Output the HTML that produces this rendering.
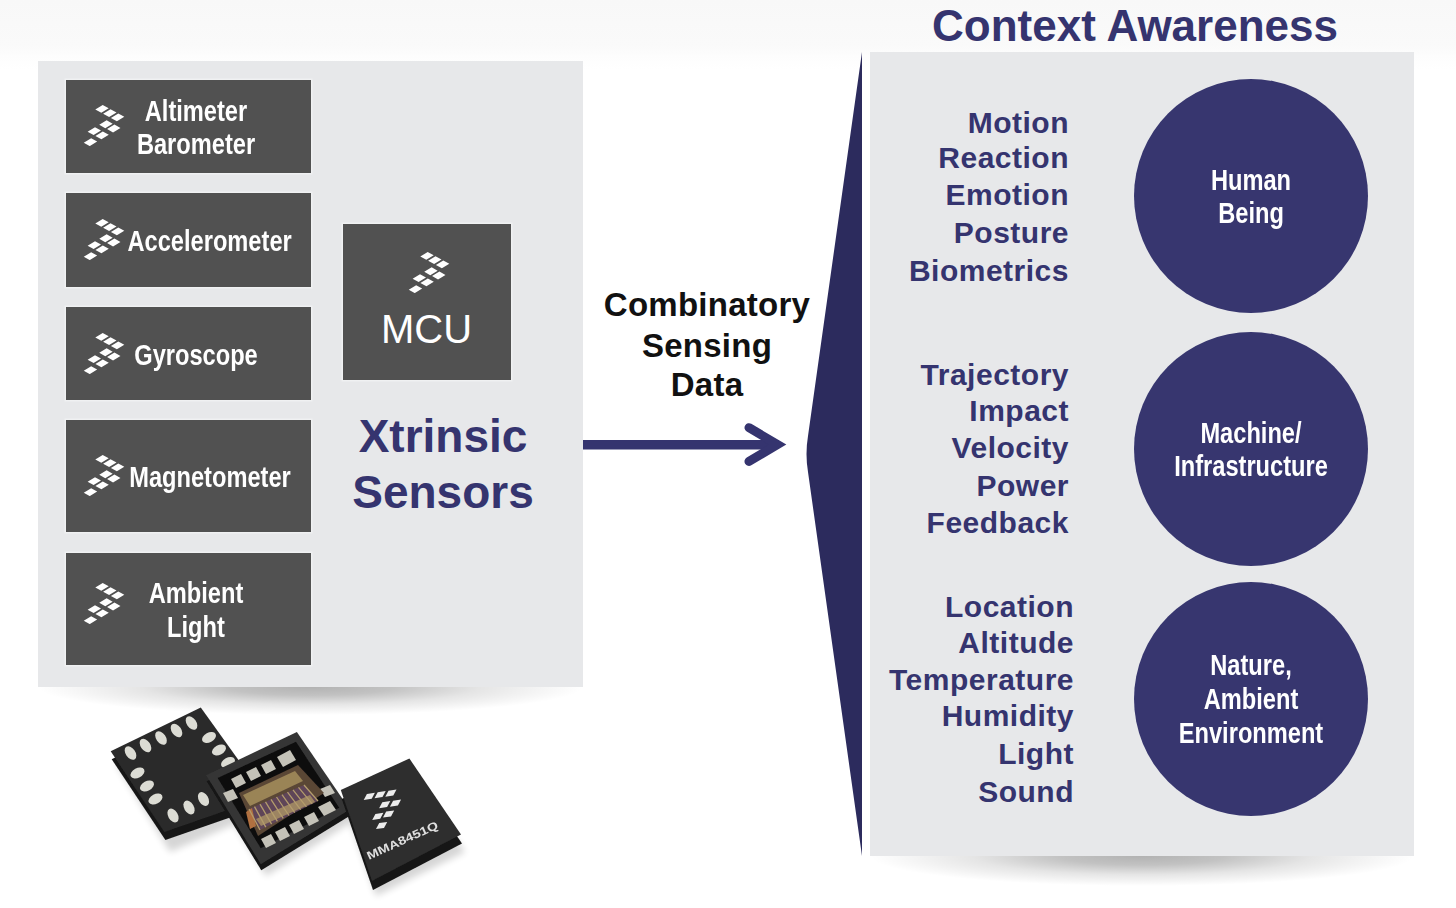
<!DOCTYPE html>
<html><head><meta charset="utf-8">
<style>
html,body{margin:0;padding:0;}
body{width:1456px;height:908px;overflow:hidden;position:relative;
 background:linear-gradient(to bottom,#f8f8f8 0px,#fafafa 46px,#fdfdfd 56px,#ffffff 70px);
 font-family:"Liberation Sans",sans-serif;}
.a{position:absolute;}
.panel{position:absolute;background:#e7e8ea;}
.box{position:absolute;background:#515151;left:66px;width:245px;box-shadow:0 0 0 1.5px rgba(255,255,255,0.4);}
.t{position:absolute;white-space:nowrap;font-weight:bold;}
.nv{color:#35346f;font-size:30px;line-height:30px;text-align:right;letter-spacing:0.5px;}
.cnd{color:#fff;font-size:29px;line-height:29px;text-align:center;transform:scaleX(0.815);transform-origin:50% 50%;}
.circ{position:absolute;left:1134px;width:234px;height:234px;border-radius:50%;background:#37366f;}
.ico{position:absolute;width:42px;height:41px;}
</style></head>
<body>
<svg width="0" height="0" style="position:absolute">
<defs>
<symbol id="fs" viewBox="0 0 42 41"><path fill="#fff" d="M12.30 4.50 19.70 0.00 25.70 3.30 18.30 7.80ZM20.10 8.75 27.50 4.25 33.50 7.55 26.10 12.05ZM27.90 13.00 35.30 8.50 41.30 11.80 33.90 16.30ZM16.25 19.85 23.65 15.35 29.65 18.65 22.25 23.15ZM24.05 24.10 31.45 19.60 37.45 22.90 30.05 27.40ZM4.60 26.70 12.00 22.20 18.00 25.50 10.60 30.00ZM12.40 30.95 19.80 26.45 25.80 29.75 18.40 34.25ZM0.75 37.80 8.15 33.30 14.15 36.60 6.75 41.10Z"/></symbol>
</defs>
</svg>

<!-- shadows -->
<div class="a" style="left:38px;top:687px;width:545px;height:28px;background:radial-gradient(ellipse 50% 100% at 50% 0%,rgba(0,0,0,0.30) 0%,rgba(0,0,0,0.24) 30%,rgba(0,0,0,0.10) 62%,rgba(0,0,0,0) 100%)"></div>
<div class="a" style="left:870px;top:856px;width:544px;height:30px;background:radial-gradient(ellipse 50% 100% at 50% 0%,rgba(0,0,0,0.30) 0%,rgba(0,0,0,0.24) 30%,rgba(0,0,0,0.10) 62%,rgba(0,0,0,0) 100%)"></div>

<!-- left panel -->
<div class="panel" style="left:38px;top:61px;width:545px;height:626px"></div>
<div class="box" style="top:80px;height:93px"></div>
<div class="box" style="top:193px;height:94px"></div>
<div class="box" style="top:307px;height:93px"></div>
<div class="box" style="top:420px;height:112px"></div>
<div class="box" style="top:553px;height:112px"></div>
<div class="a" style="left:343px;top:224px;width:168px;height:156px;background:#515151;box-shadow:0 0 0 1.5px rgba(255,255,255,0.4)"></div>

<svg class="ico" style="left:83px;top:104.8px"><use href="#fs"/></svg>
<svg class="ico" style="left:83px;top:218.8px"><use href="#fs"/></svg>
<svg class="ico" style="left:83px;top:332.7px"><use href="#fs"/></svg>
<svg class="ico" style="left:83px;top:454.5px"><use href="#fs"/></svg>
<svg class="ico" style="left:83px;top:583px"><use href="#fs"/></svg>
<svg class="ico" style="left:408px;top:251.8px"><use href="#fs"/></svg>

<div class="t cnd" style="left:96px;width:200px;top:96.7px">Altimeter</div>
<div class="t cnd" style="left:96px;width:200px;top:129.7px">Barometer</div>
<div class="t cnd" style="left:109px;width:200px;top:226.6px">Accelerometer</div>
<div class="t cnd" style="left:96px;width:200px;top:340.7px">Gyroscope</div>
<div class="t cnd" style="left:110px;width:200px;top:463.2px">Magnetometer</div>
<div class="t cnd" style="left:96px;width:200px;top:578.8px">Ambient</div>
<div class="t cnd" style="left:96px;width:200px;top:612.5px">Light</div>

<div class="t" style="left:343px;width:167px;text-align:center;top:309px;font-weight:normal;color:#fff;font-size:40px;line-height:40px">MCU</div>
<div class="t" style="left:293px;width:300px;text-align:center;top:413px;color:#35346f;font-size:46px;line-height:46px">Xtrinsic</div>
<div class="t" style="left:293px;width:300px;text-align:center;top:468.5px;color:#35346f;font-size:46px;line-height:46px">Sensors</div>

<!-- middle -->
<div class="t" style="left:557px;width:300px;text-align:center;top:288.4px;color:#111;font-size:33px;line-height:33px;letter-spacing:0.25px">Combinatory</div>
<div class="t" style="left:557px;width:300px;text-align:center;top:328.7px;color:#111;font-size:33px;line-height:33px;letter-spacing:0.25px">Sensing</div>
<div class="t" style="left:557px;width:300px;text-align:center;top:368.2px;color:#111;font-size:33px;line-height:33px;letter-spacing:0.25px">Data</div>

<svg class="a" style="left:0;top:0" width="1456" height="908">
<line x1="583" y1="444.7" x2="775" y2="444.7" stroke="#35346f" stroke-width="9.5"/>
<polyline points="749,427.7 777.5,444.6 749,461.4" fill="none" stroke="#35346f" stroke-width="9" stroke-linecap="round" stroke-linejoin="miter" stroke-miterlimit="10"/>
<path d="M862 52 L808 436 Q805 454 808 472 L862 856 Z" fill="#2c2b5d"/>
</svg>

<!-- right panel -->
<div class="t" style="left:863px;width:544px;text-align:center;top:4px;color:#35346f;font-size:44px;line-height:44px">Context Awareness</div>
<div class="panel" style="left:870px;top:52px;width:544px;height:804px"></div>

<div class="t nv" style="right:387px;top:107.7px">Motion</div>
<div class="t nv" style="right:387px;top:143.2px">Reaction</div>
<div class="t nv" style="right:387px;top:180.4px">Emotion</div>
<div class="t nv" style="right:387px;top:218.3px">Posture</div>
<div class="t nv" style="right:387px;top:255.6px">Biometrics</div>

<div class="t nv" style="right:387px;top:359.8px">Trajectory</div>
<div class="t nv" style="right:387px;top:396.2px">Impact</div>
<div class="t nv" style="right:387px;top:432.6px">Velocity</div>
<div class="t nv" style="right:387px;top:471.1px">Power</div>
<div class="t nv" style="right:387px;top:507.5px">Feedback</div>

<div class="t nv" style="right:382px;top:592px">Location</div>
<div class="t nv" style="right:382px;top:627.5px">Altitude</div>
<div class="t nv" style="right:382px;top:664.7px">Temperature</div>
<div class="t nv" style="right:382px;top:701.4px">Humidity</div>
<div class="t nv" style="right:382px;top:739.4px">Light</div>
<div class="t nv" style="right:382px;top:777.4px">Sound</div>

<div class="circ" style="top:79px"></div>
<div class="circ" style="top:332px"></div>
<div class="circ" style="top:582px"></div>

<div class="t cnd" style="left:1101px;width:300px;top:166.2px">Human</div>
<div class="t cnd" style="left:1101px;width:300px;top:198.9px">Being</div>
<div class="t cnd" style="left:1101px;width:300px;top:418.8px">Machine/</div>
<div class="t cnd" style="left:1101px;width:300px;top:451.5px">Infrastructure</div>
<div class="t cnd" style="left:1101px;width:300px;top:651px">Nature,</div>
<div class="t cnd" style="left:1101px;width:300px;top:685.2px">Ambient</div>
<div class="t cnd" style="left:1101px;width:300px;top:719.4px">Environment</div>

<!-- chips -->
<svg class="a" style="left:0;top:0" width="1456" height="908">
<defs>
<filter id="bl" x="-20%" y="-20%" width="140%" height="140%"><feGaussianBlur stdDeviation="3.5"/></filter>
<filter id="sb" x="-5%" y="-5%" width="110%" height="110%"><feGaussianBlur stdDeviation="0.55"/></filter>
</defs>
<g filter="url(#bl)" fill="#000" opacity="0.16">
<polygon points="116,764 203,722 265,811 170,852"/>
<polygon points="212,788 299,746 352,822 266,876"/>
<polygon points="344,804 411,772 465,852 376,896"/>
</g>
<g filter="url(#sb)">
<!-- chip 1 -->
<polygon points="110.7,751.2 200.8,707.4 265,797 164.4,832" fill="#161616" transform="translate(1,8)"/>
<polygon points="110.7,751.2 200.8,707.4 265,797 164.4,832" fill="#2b2b2b"/>
<g fill="#dcdcd4">
<ellipse cx="130.5" cy="753" rx="7.5" ry="4.8" transform="rotate(55 130.5 753)"/>
<ellipse cx="145.5" cy="745.5" rx="7.5" ry="4.8" transform="rotate(55 145.5 745.5)"/>
<ellipse cx="161" cy="738" rx="7.5" ry="4.8" transform="rotate(55 161 738)"/>
<ellipse cx="176.5" cy="730.5" rx="7.5" ry="4.8" transform="rotate(55 176.5 730.5)"/>
<ellipse cx="191.5" cy="723" rx="7.5" ry="4.8" transform="rotate(55 191.5 723)"/>
<ellipse cx="209" cy="737.5" rx="7.5" ry="4.8" transform="rotate(-28 209 737.5)"/>
<ellipse cx="219" cy="750" rx="7.5" ry="4.8" transform="rotate(-28 219 750)"/>
<ellipse cx="228" cy="762.5" rx="7.5" ry="4.8" transform="rotate(-28 228 762.5)"/>
<ellipse cx="137.5" cy="773" rx="7.5" ry="4.8" transform="rotate(-28 137.5 773)"/>
<ellipse cx="147" cy="786" rx="7.5" ry="4.8" transform="rotate(-28 147 786)"/>
<ellipse cx="155.5" cy="799" rx="7.5" ry="4.8" transform="rotate(-28 155.5 799)"/>
<ellipse cx="173" cy="815.5" rx="7.5" ry="4.8" transform="rotate(60 173 815.5)"/>
<ellipse cx="189" cy="807.5" rx="7.5" ry="4.8" transform="rotate(60 189 807.5)"/>
<ellipse cx="203.5" cy="799" rx="7.5" ry="4.8" transform="rotate(60 203.5 799)"/>
</g>
<!-- chip 2 -->
<polygon points="206.2,775.2 296.9,732 349.8,809.6 260.8,864.2" fill="#141414" transform="translate(0.5,6)"/>
<polygon points="206.2,775.2 296.9,732 349.8,809.6 260.8,864.2" fill="#353535"/>
<polygon points="217.6,777.9 296,741.7 339.2,807.8 260.8,848.3" fill="#0e0e0e"/>
<g fill="#c4c2b8">
<polygon points="231,779 241,774 246,783 236,788"/>
<polygon points="246,772 256,767 261,776 251,781"/>
<polygon points="261,765 271,760 276,769 266,774"/>
<polygon points="277,757 290,750 296,760 283,767"/>
<polygon points="223,793 233,789 238,798 228,802"/>
<polygon points="261,839 271,834 276,843 266,848"/>
<polygon points="275,832 285,827 290,836 280,841"/>
<polygon points="289,825 299,820 304,829 294,834"/>
<polygon points="304,817 314,812 319,821 309,826"/>
<polygon points="318,807 330,801 336,810 324,816"/>
<polygon points="320,789 330,785 335,793 325,797"/>
</g>
<polygon points="239,793 298,765 324,793 258,836" fill="#5a4636"/>
<polygon points="243,795 295,771 303,781 250,806" fill="#9a8456"/>
<polygon points="249,809 304,785 318,801 260,830" fill="#5e4458"/>
<polygon points="256,819 310,795 315,802 261,826" fill="#9c8462"/>
<polygon points="246,812 252,808 256,826 250,829" fill="#b07040"/>
<path d="M249.0 809.0 L260.0 830.0 M254.5 806.6 L265.8 827.1 M260.0 804.2 L271.6 824.2 M265.5 801.8 L277.4 821.3 M271.0 799.4 L283.2 818.4 M276.5 797.0 L289.0 815.5 M282.0 794.6 L294.8 812.6 M287.5 792.2 L300.6 809.7 M293.0 789.8 L306.4 806.8 M298.5 787.4 L312.2 803.9 M304.0 785.0 L318.0 801.0" stroke="#b39c6c" stroke-width="1.3" fill="none"/>
<!-- chip 3 -->
<polygon points="340.8,790.1 409.4,758.5 461,834.5 372,881" fill="#151515" transform="translate(1,9)"/>
<polygon points="340.8,790.1 409.4,758.5 461,834.5 372,881" fill="#2d2d2d"/>
<g fill="#ececec">
<polygon points="363.7,799.9 371.7,798.7 374.9,792.7 366.9,793.9"/>
<polygon points="374.5,798.3 382.5,797.1 385.7,791.1 377.7,792.3"/>
<polygon points="385.3,796.8 393.3,795.6 396.5,789.6 388.5,790.8"/>
<polygon points="379.1,808.3 387.1,807.1 390.3,801.1 382.3,802.3"/>
<polygon points="389.9,806.8 397.9,805.6 401.1,799.6 393.1,800.8"/>
<polygon points="372.2,819.9 380.2,818.7 383.4,812.7 375.4,813.9"/>
<polygon points="383.0,817.6 391.0,816.4 394.2,810.4 386.2,811.6"/>
<polygon points="376.0,829.1 384.0,827.9 387.2,821.9 379.2,823.1"/>
</g>
<text x="0" y="0" transform="translate(369,860) rotate(-24.5)" font-family="Liberation Sans" font-weight="bold" font-size="11.5" fill="#e0e0e0" textLength="77" lengthAdjust="spacingAndGlyphs">MMA8451Q</text>
</g>
</svg>

</body></html>
